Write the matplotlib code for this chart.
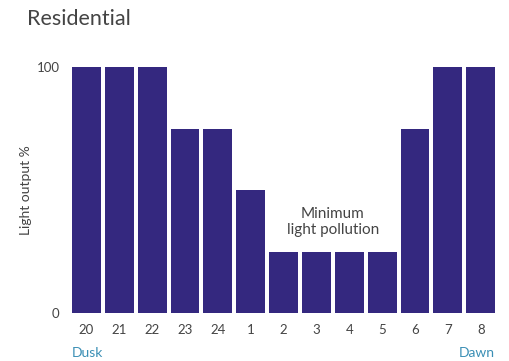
import matplotlib.pyplot as plt

hours = ["20", "21", "22", "23", "24", "1", "2", "3", "4", "5", "6", "7", "8"]
light_output = [100, 100, 100, 75, 75, 50, 25, 25, 25, 25, 75, 100, 100]

plt.rcParams['font.family'] = ['Lato', 'DejaVu Sans']

bar_color = '#34287f'
text_color = '#444444'
teal = '#3b8fb5'

fig = plt.figure(figsize=(5.10, 3.61), dpi=100)
ax = fig.add_axes([0.141, 0.133, 0.830, 0.681])

x = range(len(hours))
ax.bar(x, light_output, width=0.88, color=bar_color)

ax.set_xlim(-0.44, len(hours) - 0.56)
ax.set_ylim(0, 100)
ax.set_xticks(list(x))
ax.set_xticklabels(hours)
ax.set_yticks([0, 100])
ax.tick_params(length=0, labelsize=9.5, colors=text_color)
ax.tick_params(axis='x', pad=8)
ax.tick_params(axis='y', pad=9)
for s in ax.spines.values():
    s.set_visible(False)

ax.set_ylabel("Light output %", fontsize=10, color=text_color)
ax.yaxis.set_label_coords(-0.095, 0.5)

ax.text(7.5, 37, "Minimum\nlight pollution", ha='center', va='center',
        fontsize=11, color=text_color, linespacing=1.25)

fig.text(27 / 510, 1 - 19 / 361, "Residential", fontsize=15.5, color=text_color,
         ha='left', va='center')
fig.text(0.141, 0.022, "Dusk", fontsize=10, color=teal, ha='left', va='center')
fig.text(0.971, 0.022, "Dawn", fontsize=10, color=teal, ha='right', va='center')

fig.savefig("out.png", dpi=100)
